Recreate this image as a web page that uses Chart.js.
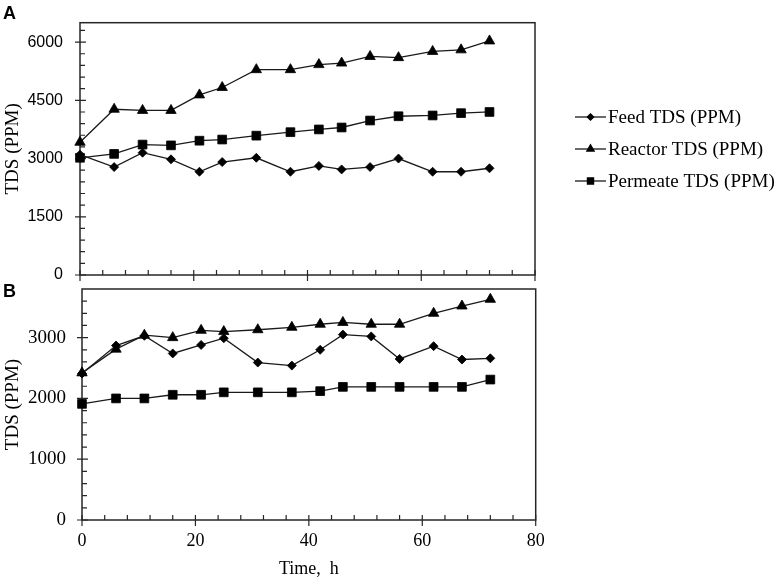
<!DOCTYPE html>
<html><head><meta charset="utf-8">
<script src="https://cdn.jsdelivr.net/npm/chart.js@4/dist/chart.umd.min.js"></script>
<style>
html,body{margin:0;padding:0;background:#fff;}
#wrap{position:relative;width:780px;height:581px;overflow:hidden;background:#fff;}
#ca{position:absolute;left:0;top:0;}
#cb{position:absolute;left:0;top:282px;}
.pl{position:absolute;font:bold 18px 'Liberation Sans',Arial,sans-serif;color:#000;line-height:18px;}
</style></head><body>
<div id="wrap">
<canvas id="ca" width="780" height="282"></canvas>
<canvas id="cb" width="780" height="299"></canvas>
<div class="pl" style="left:3px;top:4px">A</div>
<div class="pl" style="left:3px;top:282px">B</div>
</div>
<script>
const timeH = [0,6,11,16,21,25,31,37,42,46,51,56,62,67,72];
const feedA = [3100,2780,3150,2980,2660,2910,3020,2660,2810,2720,2780,3000,2660,2660,2750];
const reactorA = [3420,4270,4240,4240,4640,4830,5290,5290,5420,5460,5630,5600,5760,5800,6030];
const permeateA = [3020,3120,3360,3340,3460,3490,3590,3680,3750,3800,3980,4090,4110,4170,4200];
const feedB = [2410,2870,3030,2740,2880,2990,2590,2540,2800,3050,3020,2650,2860,2640,2660];
const reactorB = [2420,2810,3040,3000,3120,3100,3130,3170,3220,3250,3220,3220,3400,3520,3630];
const permeateB = [1910,2000,2000,2060,2060,2100,2100,2100,2120,2190,2190,2190,2190,2190,2310];
const xTicks = [0,20,40,60,80];
const yTicksA = [0,1500,3000,4500,6000];
const yTicksB = [0,1000,2000,3000];
const seriesNames = ['Feed TDS (PPM)','Reactor TDS (PPM)','Permeate TDS (PPM)'];
const markerStyles = ['rectRot','triangle','rect'];
const markerRadius = [4.5,6,6.2];

function makeDataset(i, vals){
  return {
    label: seriesNames[i],
    data: vals.map((v,k)=>({x: timeH[k], y: v})),
    borderColor: '#1a1a1a',
    backgroundColor: '#000',
    borderWidth: 1.3,
    pointStyle: markerStyles[i],
    pointRadius: markerRadius[i],
    pointBackgroundColor: '#000',
    pointBorderColor: '#000',
    pointBorderWidth: 0.8,
    tension: 0,
    clip: false
  };
}

const framePlugin = {
  id: 'frame',
  beforeDatasetsDraw(chart, args, opts){
    const ctx = chart.ctx, a = chart.chartArea, x = chart.scales.x, y = chart.scales.y;
    ctx.save();
    ctx.strokeStyle = '#262626';
    ctx.lineWidth = 1.5;
    ctx.strokeRect(a.left, a.top, a.right - a.left, a.bottom - a.top);
    ctx.lineWidth = 1.2;
    ctx.beginPath();
    const ny = Math.round((y.max - y.min) / opts.yMinor);
    for (let k = 0; k < ny; k++){
      const v = y.min + k * opts.yMinor;
      const py = y.getPixelForValue(v);
      if (opts.yMajor.includes(v)) { ctx.moveTo(a.left - 5, py); ctx.lineTo(a.left + 6, py); }
      else { ctx.moveTo(a.left, py); ctx.lineTo(a.left + 5, py); }
    }
    const nx = Math.round((x.max - x.min) / opts.xMinor);
    for (let k = 0; k <= nx; k++){
      const v = x.min + k * opts.xMinor;
      const px = x.getPixelForValue(v);
      if (xTicks.includes(v)) { ctx.moveTo(px, a.bottom - 5); ctx.lineTo(px, a.bottom + 6); }
      else { ctx.moveTo(px, a.bottom); ctx.lineTo(px, a.bottom - 5); }
    }
    ctx.stroke();
    ctx.restore();
  }
};

function drawMarker(ctx, style, r, cx, cy){
  if (Chart.helpers && Chart.helpers.drawPoint){
    Chart.helpers.drawPoint(ctx, {pointStyle: style, radius: r, borderWidth: 0.8, rotation: 0}, cx, cy);
    return;
  }
  ctx.beginPath();
  if (style === 'rect'){ const s = r*Math.SQRT1_2; ctx.rect(cx-s, cy-s, 2*s, 2*s); }
  else if (style === 'triangle'){ ctx.moveTo(cx, cy-r); ctx.lineTo(cx+r*0.866, cy+r*0.5); ctx.lineTo(cx-r*0.866, cy+r*0.5); ctx.closePath(); }
  else { ctx.moveTo(cx, cy-r); ctx.lineTo(cx+r, cy); ctx.lineTo(cx, cy+r); ctx.lineTo(cx-r, cy); ctx.closePath(); }
  ctx.fill(); ctx.stroke();
}

const sideLegend = {
  id: 'sideLegend',
  afterDraw(chart, args, opts){
    const ctx = chart.ctx;
    ctx.save();
    chart.data.datasets.forEach((d, i) => {
      const yy = opts.y0 + i * opts.dy;
      ctx.strokeStyle = '#1a1a1a';
      ctx.lineWidth = 1.3;
      ctx.beginPath(); ctx.moveTo(opts.x0, yy); ctx.lineTo(opts.x1, yy); ctx.stroke();
      ctx.fillStyle = '#000'; ctx.strokeStyle = '#000';
      drawMarker(ctx, d.pointStyle, d.pointRadius * 0.7, (opts.x0 + opts.x1) / 2, yy);
      ctx.fillStyle = '#000';
      ctx.font = "19px 'Liberation Serif', 'Times New Roman', serif";
      ctx.textBaseline = 'middle';
      ctx.textAlign = 'left';
      ctx.fillText(d.label, opts.tx, yy + 1);
    });
    ctx.restore();
  }
};

const plainNum = v => String(v);

function xScale(showLabels, h){
  return {
    type: 'linear', min: 0, max: 80,
    afterBuildTicks: s => { s.ticks = xTicks.map(v => ({value: v})); },
    ticks: {display: showLabels, color: '#000', padding: 10, maxRotation: 0, callback: plainNum,
      font: {family: "'Liberation Serif', 'Times New Roman', serif", size: 18}},
    grid: {display: false, drawTicks: false},
    border: {display: false},
    title: {display: showLabels, text: 'Time,  h', color: '#000',
      font: {family: "'Liberation Serif', 'Times New Roman', serif", size: 18}, padding: {top: 0, bottom: 1}},
    afterFit: s => { s.height = h; s.paddingLeft = 0; s.paddingRight = 0; }
  };
}
function yScale(max, ticksArr, tickFont, pad, w){
  return {
    type: 'linear', min: 0, max: max,
    afterBuildTicks: s => { s.ticks = ticksArr.map(v => ({value: v})); },
    ticks: {color: '#000', padding: pad, font: tickFont, callback: plainNum},
    grid: {display: false, drawTicks: false},
    border: {display: false},
    title: {display: true, text: 'TDS (PPM)', color: '#000',
      font: {family: "'Liberation Serif', 'Times New Roman', serif", size: 19}, padding: {top: 2, bottom: 0}},
    afterFit: s => { s.width = w; s.paddingTop = 0; s.paddingBottom = 0; }
  };
}

const common = {
  responsive: false,
  animation: false,
  events: []
};

new Chart(document.getElementById('ca'), {
  type: 'line',
  data: {datasets: [makeDataset(0, feedA), makeDataset(1, reactorA), makeDataset(2, permeateA)]},
  options: Object.assign({}, common, {
    layout: {padding: {left: 0, right: 245, top: 22.7, bottom: 0}},
    scales: {
      x: xScale(false, 6.3),
      y: yScale(6500, yTicksA, {family: "'Liberation Sans', Arial, sans-serif", size: 16}, 17, 80)
    },
    plugins: {legend: {display: false}, tooltip: {enabled: false},
      frame: {yMinor: 300, yMajor: yTicksA, xMinor: 4},
      sideLegend: {x0: 575, x1: 606, tx: 608, y0: 117, dy: 32}}
  }),
  plugins: [framePlugin, sideLegend]
});

new Chart(document.getElementById('cb'), {
  type: 'line',
  data: {datasets: [makeDataset(0, feedB), makeDataset(1, reactorB), makeDataset(2, permeateB)]},
  options: Object.assign({}, common, {
    layout: {padding: {left: 0, right: 244.3, top: 1.3, bottom: 0}},
    scales: {
      x: xScale(true, 61),
      y: yScale(3800, yTicksB, {family: "'Liberation Serif', 'Times New Roman', serif", size: 19}, 16, 82)
    },
    plugins: {legend: {display: false}, tooltip: {enabled: false},
      frame: {yMinor: 200, yMajor: yTicksB, xMinor: 4}}
  }),
  plugins: [framePlugin]
});
</script>
</body></html>
